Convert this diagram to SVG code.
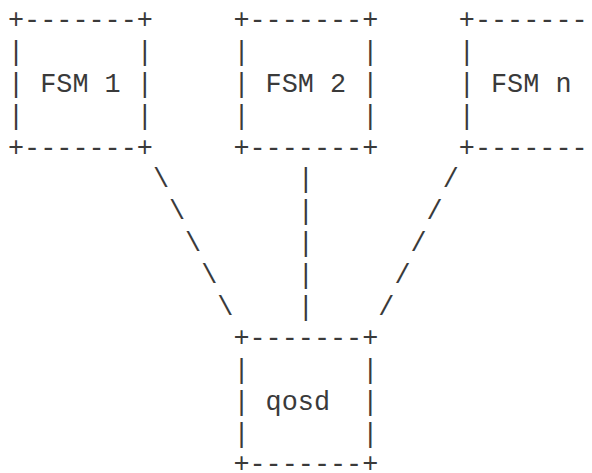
<svg xmlns="http://www.w3.org/2000/svg" width="592" height="473" viewBox="0 0 592 473">
<style>
text{font-family:"Liberation Mono","Courier New",monospace;font-size:26.83px;fill:#3a3a3a;white-space:pre}
</style>
<rect width="592" height="473" fill="#ffffff"/>
<g id="fsm1" xml:space="preserve">
<text x="8" y="28.4">+-------+</text>
<text x="8" y="60.2">|       |</text>
<text x="8" y="92">| FSM 1 |</text>
<text x="8" y="123.8">|       |</text>
<text x="8" y="155.6">+-------+</text>
</g>
<g id="fsm2" xml:space="preserve">
<text x="233.4" y="28.4">+-------+</text>
<text x="233.4" y="60.2">|       |</text>
<text x="233.4" y="92">| FSM 2 |</text>
<text x="233.4" y="123.8">|       |</text>
<text x="233.4" y="155.6">+-------+</text>
</g>
<g id="fsmn" xml:space="preserve">
<text x="458.8" y="28.4">+-------</text>
<text x="458.8" y="60.2">|</text>
<text x="458.8" y="92">| FSM n</text>
<text x="458.8" y="123.8">|</text>
<text x="458.8" y="155.6">+-------</text>
</g>
<g id="qosd" xml:space="preserve">
<text x="233.4" y="346.4">+-------+</text>
<text x="233.4" y="378.2">|       |</text>
<text x="233.4" y="410">| qosd  |</text>
<text x="233.4" y="441.8">|       |</text>
<text x="233.4" y="472">+-------+</text>
</g>
<g id="connectors">
<text x="152.9" y="187.4">\</text>
<text x="169" y="219.2">\</text>
<text x="185.1" y="251">\</text>
<text x="201.2" y="282.8">\</text>
<text x="217.3" y="314.6">\</text>
<text x="297.8" y="187.4">|</text>
<text x="297.8" y="219.2">|</text>
<text x="297.8" y="251">|</text>
<text x="297.8" y="282.8">|</text>
<text x="297.8" y="314.6">|</text>
<text x="442.7" y="187.4">/</text>
<text x="426.6" y="219.2">/</text>
<text x="410.5" y="251">/</text>
<text x="394.4" y="282.8">/</text>
<text x="378.3" y="314.6">/</text>
</g>
</svg>
